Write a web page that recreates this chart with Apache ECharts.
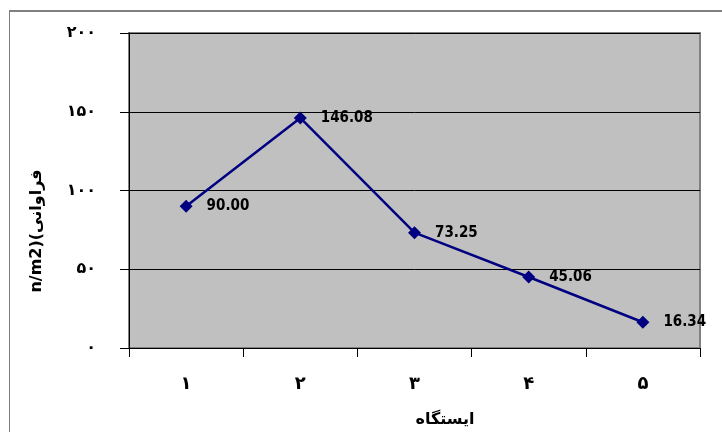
<!DOCTYPE html>
<html><head><meta charset="utf-8">
<script src="https://cdn.jsdelivr.net/npm/echarts@6/dist/echarts.min.js"></script>
<style>
html,body{margin:0;padding:0;background:#fff;overflow:hidden;width:722px;height:432px;}
#frame{position:absolute;left:9px;top:10px;width:700px;height:422px;border-left:1px solid #808080;border-top:2px solid #808080;box-sizing:border-box;}
#frame2{position:absolute;left:709px;top:10px;width:13px;height:2px;background:#808080;}
#c{position:absolute;left:0;top:0;width:722px;height:432px;}
</style></head>
<body>
<div id="frame"></div>
<div id="frame2"></div>
<div id="c"></div>
<script>
const categories = ['۱','۲','۳','۴','۵'];
const values = [90.00, 146.08, 73.25, 45.06, 16.34];
const yTickLabels = {0:'۰',50:'۵۰',100:'۱۰۰',150:'۱۵۰',200:'۲۰۰'};
const yTitle = 'n/m2)(فراوانی';
const xTitle = 'ایستگاه';

const chart = echarts.init(document.getElementById('c'), null, {renderer:'canvas'});
chart.setOption({
  animation:false,
  grid:{left:129, top:33, right:22, bottom:84, show:true, backgroundColor:'#c0c0c0', borderColor:'#808080', borderWidth:2},
  xAxis:{
    type:'category', data:categories, boundaryGap:true,
    axisLine:{lineStyle:{color:'#000', width:1}},
    axisTick:{show:true, length:9, inside:false, lineStyle:{color:'#000'}},
    axisLabel:{margin:27, fontFamily:'DejaVu Sans', fontWeight:'bold', fontSize:18, color:'#000'}
  },
  yAxis:{
    type:'value', min:0, max:200, interval:50,
    axisLine:{show:true, lineStyle:{color:'#000', width:1}},
    axisTick:{show:true, length:9, lineStyle:{color:'#000'}},
    splitLine:{show:true, lineStyle:{color:'#000', width:1}},
    axisLabel:{margin:33, fontFamily:'DejaVu Sans', fontWeight:'bold', fontSize:16, color:'#000',
      formatter:v=>yTickLabels[v] ?? String(v)}
  },
  graphic:[{
    type:'text', x:37, y:231, rotation:Math.PI/2,
    style:{text:yTitle, fontFamily:'DejaVu Sans', fontWeight:'bold', fontSize:16, fill:'#000', align:'center', verticalAlign:'middle'}
  },{
    type:'text', x:445, y:420,
    style:{text:xTitle, fontFamily:'DejaVu Sans', fontWeight:'bold', fontSize:16, fill:'#000', align:'center', verticalAlign:'middle'}
  }],
  series:[{
    type:'line', data:values,
    symbol:'diamond', symbolSize:13,
    lineStyle:{color:'#000080', width:2.5},
    itemStyle:{color:'#000080'},
    label:{show:true, position:'right', distance:14, formatter:p=>p.value.toFixed(2),
      fontFamily:'DejaVu Sans Condensed', fontWeight:'bold', fontSize:15, color:'#000'}
  }]
});
</script>
</body></html>
